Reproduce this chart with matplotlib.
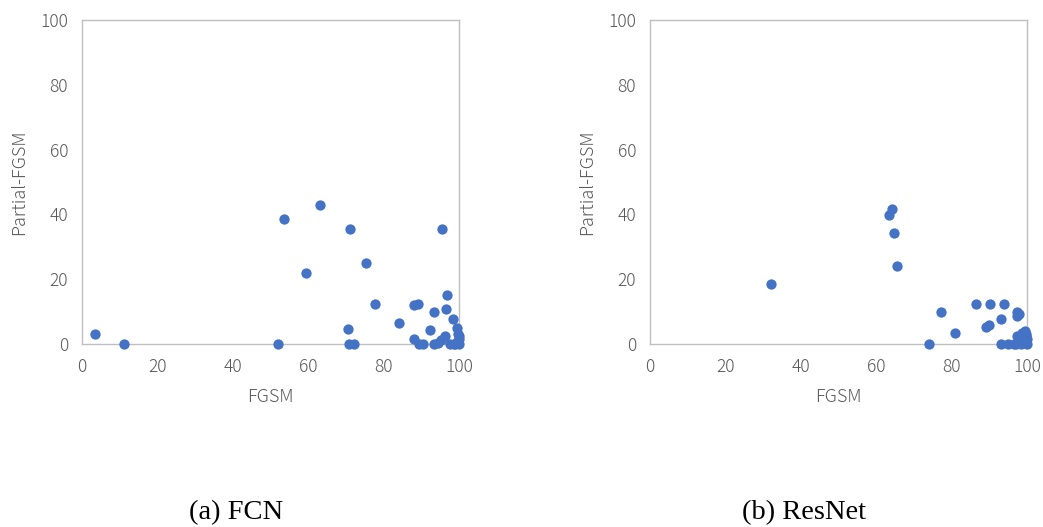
import matplotlib
matplotlib.use("Agg")
import matplotlib.pyplot as plt

# FCN: FGSM vs Partial-FGSM
fcn_x = [3.4, 11.1, 52.0, 53.7, 59.3, 63.2, 71.0, 70.5, 70.7, 72.2, 75.2, 77.8, 84.0,
         88.1, 89.2, 88.1, 89.4, 90.4, 92.2, 93.5, 93.5, 94.5, 95.3, 95.5, 96.5, 96.9,
         96.3, 97.6, 98.5, 99.4, 99.9, 99.5, 100, 100, 99.8, 99.0, 98.8]
fcn_y = [3.1, 0, 0, 38.5, 21.8, 42.9, 35.6, 4.5, 0, 0, 25.0, 12.2, 6.5,
         12.0, 12.2, 1.4, 0, 0, 4.4, 9.8, 0, 0.4, 1.2, 35.6, 10.9, 15.0,
         2.5, 0, 7.7, 4.8, 2.4, 0.5, 1.5, 0, 3.0, 0, 0]

# ResNet
res_x = [32.2, 63.5, 64.2, 64.6, 65.4, 74.1, 77.1, 80.8, 86.6, 90.3, 93.8, 89.0, 90.0,
         93.1, 93.1, 95.0, 97.4, 97.9, 97.4, 97.3, 97.1, 96.5, 98.8, 99.5, 99.0, 99.8,
         100, 99.5, 98.5, 100, 99.8, 98.0]
res_y = [18.6, 39.8, 41.7, 34.3, 24.1, 0, 9.8, 3.4, 12.5, 12.5, 12.5, 5.4, 6.0,
         7.7, 0, 0, 10.0, 9.3, 8.5, 2.4, 0, 0, 3.4, 3.9, 1.5, 2.5,
         0, 0.5, 0, 1.5, 3.0, 1.0]

ticks = [0, 20, 40, 60, 80, 100]
captions = ["(a) FCN", "(b) ResNet"]

plt.rcParams['font.family'] = ['Noto Sans CJK JP', 'DejaVu Sans']

W, H = 1043, 527
fig = plt.figure(figsize=(W / 100, H / 100), dpi=100)

gray = "#595959"
spine = "#BFBFBF"
blue = "#4472C4"

panels = [(82, fcn_x, fcn_y), (650, res_x, res_y)]
for i, (left, xs, ys) in enumerate(panels):
    ax = fig.add_axes([left / W, (H - 344) / H, 377 / W, 324 / H])
    ax.scatter(xs, ys, s=55, color=blue, clip_on=False, zorder=3, linewidths=0)
    ax.set_xlim(0, 100)
    ax.set_ylim(0, 100)
    ax.set_xticks(ticks)
    ax.set_yticks(ticks)
    for s in ax.spines.values():
        s.set_color(spine)
        s.set_linewidth(1.0)
    ax.tick_params(length=0, labelsize=12.5, labelcolor=gray, pad=10)
    for lab in ax.get_xticklabels() + ax.get_yticklabels():
        lab.set_fontweight("light")
    ax.set_xlabel("FGSM", fontsize=13, color=gray, labelpad=9, fontweight="light")
    ax.set_ylabel("Partial-FGSM", fontsize=13, color=gray, labelpad=9,
                  fontweight="light")
    fig.text((left + 377 / 2 - 34) / W, 1 - 513 / H, captions[i],
             family="Liberation Serif", fontsize=20.5,
             ha="center", va="center", color="black")

fig.savefig("out.png", dpi=100)
